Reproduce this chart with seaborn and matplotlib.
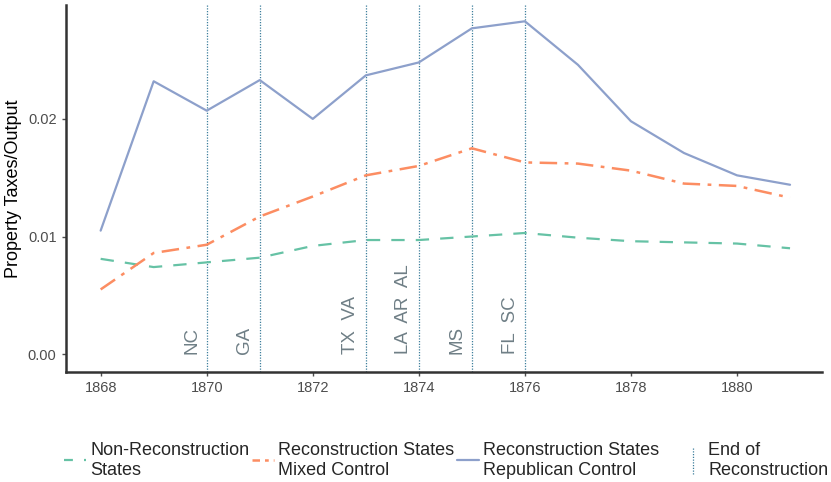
import pandas as pd
import seaborn as sns
import matplotlib.pyplot as plt
from matplotlib.lines import Line2D
from matplotlib.legend_handler import HandlerBase

years = list(range(1868, 1882))
non_recon = [0.0081, 0.0074, 0.0078, 0.0082, 0.0092, 0.0097, 0.0097, 0.0100, 0.0103,
             0.0099, 0.0096, 0.0095, 0.0094, 0.0090]
mixed = [0.0055, 0.0086, 0.0093, 0.0117, 0.0134, 0.0152, 0.0160, 0.0175, 0.0163,
         0.0162, 0.0156, 0.0145, 0.0143, 0.0133]
republican = [0.0105, 0.0232, 0.0207, 0.0233, 0.0200, 0.0237, 0.0248, 0.0277, 0.0283,
              0.0246, 0.0198, 0.0171, 0.0152, 0.0144]

end_years = [1870, 1871, 1873, 1874, 1875, 1876]
end_labels = ["NC", "GA", "TX  VA", "LA  AR  AL", "MS", "FL  SC"]

df = pd.DataFrame({"year": years, "non": non_recon, "mixed": mixed, "rep": republican})

sns.set_style("white")
plt.rcParams['font.family'] = ['Liberation Sans', 'DejaVu Sans']

green, orange, blue = "#66c2a5", "#fc8d62", "#8da0cb"
vcol = "#3d7f9c"
vdots = (0, (1, 1.2))


# legend key for the end-of-reconstruction lines: a short vertical dotted line
class VLineHandler(HandlerBase):
    def create_artists(self, legend, orig, xd, yd, w, h, fontsize, trans):
        x = xd + w / 2
        ln = Line2D([x, x], [yd - h * 0.6, yd + h * 1.6], color=vcol,
                    linestyle=vdots, linewidth=0.9, transform=trans)
        return [ln]


fig, ax = plt.subplots(figsize=(8.31, 4.82), dpi=100)
fig.subplots_adjust(left=0.079, right=0.989, top=0.99, bottom=0.228)

for yr, lab in zip(end_years, end_labels):
    ax.axvline(yr, color=vcol, linestyle=vdots, linewidth=0.9, zorder=1)
    ax.text(yr - 0.12, 0.0, lab, rotation=90, ha='right', va='bottom',
            color="#6f7f86", fontsize=13.5)

sns.lineplot(data=df, x="year", y="non", ax=ax, color=green, linewidth=1.6,
             linestyle=(0, (6, 5)))
sns.lineplot(data=df, x="year", y="mixed", ax=ax, color=orange, linewidth=1.8,
             linestyle=(0, (7, 3, 1.5, 3)))
sns.lineplot(data=df, x="year", y="rep", ax=ax, color=blue, linewidth=1.6)

ax.set_xlim(1867.34, 1881.6)
ax.set_ylim(-0.00153, 0.0297)
ax.set_xticks([1868, 1870, 1872, 1874, 1876, 1878, 1880])
ax.set_yticks([0.0, 0.01, 0.02])
ax.set_yticklabels(["0.00", "0.01", "0.02"])
ax.set_xlabel("")
ax.set_ylabel("Property Taxes/Output", fontsize=13, color="black")
ax.tick_params(axis='both', colors="#4d4d4d", labelsize=10.5, length=3, width=1,
               direction='out', left=True, bottom=True)
for s in ["top", "right"]:
    ax.spines[s].set_visible(False)
for s in ["left", "bottom"]:
    ax.spines[s].set_color("#333333")
    ax.spines[s].set_linewidth(1.8)

handles = [
    Line2D([], [], color=green, linewidth=1.6, linestyle=(0, (4, 5))),
    Line2D([], [], color=orange, linewidth=1.8, linestyle=(0, (3, 2, 1.5, 2))),
    Line2D([], [], color=blue, linewidth=1.6),
]
labels = ["Non-Reconstruction\nStates", "Reconstruction States\nMixed Control",
          "Reconstruction States\nRepublican Control"]
leg_kw = dict(frameon=False, fontsize=13, handlelength=1.22, handletextpad=0.22,
              columnspacing=0.17, borderaxespad=0, borderpad=0)
fig.legend(handles, labels, loc='center left', bbox_to_anchor=(64 / 831, 0.045),
           ncol=3, **leg_kw)

end_key = object()
fig.legend([end_key], ["End of\nReconstruction"], loc='center left',
           bbox_to_anchor=(682 / 831, 0.045), handler_map={end_key: VLineHandler()},
           **leg_kw)

plt.savefig("out.png", dpi=100)
